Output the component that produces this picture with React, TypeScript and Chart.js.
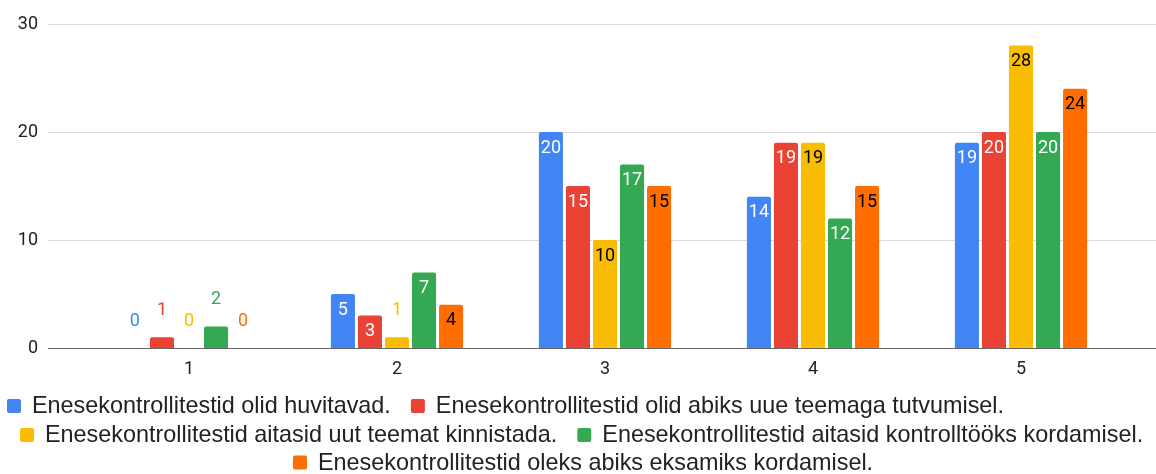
import React, { useEffect, useRef } from "react";
import { Chart, registerables } from "chart.js";

Chart.register(...registerables);

const categories = ["1", "2", "3", "4", "5"];
const seriesNames = [
  "Enesekontrollitestid olid huvitavad.",
  "Enesekontrollitestid olid abiks uue teemaga tutvumisel.",
  "Enesekontrollitestid aitasid uut teemat kinnistada.",
  "Enesekontrollitestid aitasid kontrolltööks kordamisel.",
  "Enesekontrollitestid oleks abiks eksamiks kordamisel.",
];
const huvitavad = [0, 5, 20, 14, 19];
const tutvumisel = [1, 3, 15, 19, 20];
const kinnistada = [0, 1, 10, 19, 28];
const kontrolltoo = [2, 7, 17, 12, 20];
const eksam = [0, 4, 15, 15, 24];
const yTicks = [0, 10, 20, 30];

const colors = ["#4285F4", "#EA4335", "#FBBC04", "#34A853", "#FF6D01"];
const insideText = ["#ffffff", "#ffffff", "#000000", "#ffffff", "#000000"];

// legend layout (rows of series indexes)
const legendRows = [[0, 1], [2, 3], [4]];
const legendRowX = [7, 20, 293];
const legendRowY = [406, 435, 462.5];

const gridPlugin = {
  id: "extGrid",
  beforeDatasetsDraw(chart: any) {
    const { ctx } = chart;
    const y = chart.scales.y;
    ctx.save();
    ctx.lineWidth = 1;
    ctx.strokeStyle = "#d9d9d9";
    yTicks.forEach((t) => {
      if (t === 0) return;
      const py = Math.round(y.getPixelForValue(t)) + 0.5;
      ctx.beginPath();
      ctx.moveTo(48, py);
      ctx.lineTo(chart.width, py);
      ctx.stroke();
    });
    ctx.restore();
  },
  afterDatasetsDraw(chart: any) {
    const { ctx } = chart;
    const y = chart.scales.y;
    ctx.save();
    ctx.lineWidth = 1;
    ctx.strokeStyle = "#666666";
    const py = Math.round(y.getPixelForValue(0)) + 0.5;
    ctx.beginPath();
    ctx.moveTo(48, py);
    ctx.lineTo(chart.width, py);
    ctx.stroke();
    // data labels
    ctx.font = "18px Roboto";
    ctx.textAlign = "center";
    ctx.textBaseline = "middle";
    chart.data.datasets.forEach((ds: any, i: number) => {
      const meta = chart.getDatasetMeta(i);
      meta.data.forEach((bar: any, j: number) => {
        const v = ds.data[j];
        const p = bar.getProps(["x", "y", "base"], true);
        const h = p.base - p.y;
        if (h >= 28) {
          ctx.fillStyle = insideText[i];
          ctx.fillText(String(v), p.x, p.y + 16);
        } else {
          ctx.fillStyle = colors[i];
          ctx.fillText(String(v), p.x, p.y - 27);
        }
      });
    });
    ctx.restore();
  },
  afterDraw(chart: any) {
    const { ctx } = chart;
    ctx.save();
    ctx.font = "23.4px 'Liberation Sans', Arial";
    ctx.textBaseline = "middle";
    ctx.textAlign = "left";
    legendRows.forEach((row, r) => {
      let x = legendRowX[r];
      const cy = legendRowY[r];
      row.forEach((i) => {
        ctx.fillStyle = colors[i];
        ctx.beginPath();
        (ctx as any).roundRect(x, cy - 7, 14, 14, 2);
        ctx.fill();
        x += 14 + 11;
        ctx.fillStyle = "#222222";
        const label = chart.data.datasets[i].label;
        ctx.fillText(label, x, cy + 1);
        x += ctx.measureText(label).width + 20;
      });
    });
    ctx.restore();
  },
};

export default function App() {
  const ref = useRef<HTMLCanvasElement | null>(null);
  useEffect(() => {
    document.body.style.margin = "0";
    const series = [huvitavad, tutvumisel, kinnistada, kontrolltoo, eksam];
    const chart = new Chart(ref.current as HTMLCanvasElement, {
      type: "bar",
      data: {
        labels: categories,
        datasets: series.map((d, i) => ({
          label: seriesNames[i],
          data: d,
          backgroundColor: colors[i],
          borderRadius: { topLeft: 2, topRight: 2, bottomLeft: 0, bottomRight: 0 },
          borderSkipped: false,
          categoryPercentage: 0.65,
          barPercentage: 0.89,
        })),
      },
      options: {
        animation: false,
        responsive: false,
        maintainAspectRatio: false,
        layout: { padding: { top: 24, right: 31, left: 0, bottom: 86 } },
        plugins: {
          tooltip: { enabled: false },
          legend: { display: false },
        },
        scales: {
          x: {
            afterFit: (axis: any) => {
              axis.height = 40;
            },
            grid: { display: false },
            border: { display: false },
            ticks: {
              color: "#222222",
              font: { family: "Roboto", size: 18 },
              padding: 3,
            },
          },
          y: {
            min: 0,
            max: 30,
            afterFit: (axis: any) => {
              axis.width = 85;
              axis.paddingTop = 0;
              axis.paddingBottom = 0;
            },
            afterBuildTicks: (axis: any) => {
              axis.ticks = yTicks.map((v) => ({ value: v }));
            },
            grid: { display: false, drawTicks: false },
            border: { display: false },
            ticks: {
              color: "#222222",
              padding: 47,
              font: { family: "Roboto", size: 18 },
            },
          },
        },
      },
      plugins: [gridPlugin],
    } as any);
    return () => chart.destroy();
  }, []);
  return <canvas ref={ref} width={1156} height={474} style={{ display: "block" }} />;
}
